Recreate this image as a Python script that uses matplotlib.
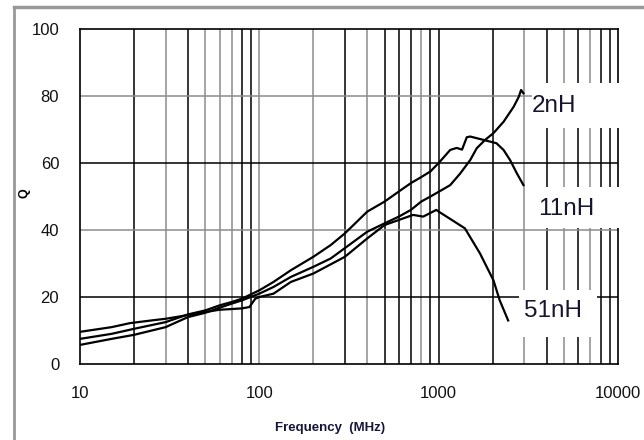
import matplotlib.pyplot as plt
from matplotlib.patches import Rectangle
from matplotlib.lines import Line2D

# Q vs frequency for three chip inductors
freq_2nH = [10, 15, 20, 30, 40, 50, 60, 70, 80, 100, 120, 150, 200, 250, 300, 400, 500, 600, 700,
            800, 900, 1000, 1160, 1320, 1500, 1630, 1815, 2020, 2300, 2620, 2800, 2880, 2970]
q_2nH = [5.7, 7.5, 8.7, 11, 14, 15.3, 16.8, 18, 19, 21, 23, 26, 29, 31.5, 34.6, 39.5, 42, 44, 46,
         48.5, 50, 51.4, 53.4, 56.9, 60.9, 64.4, 66.9, 68.9, 72.3, 76.8, 79.8, 81.8, 80.8]

freq_11nH = [10, 15, 20, 30, 40, 50, 60, 70, 80, 100, 120, 150, 200, 250, 300, 400, 500, 600, 700,
             800, 900, 1000, 1160, 1260, 1350, 1435, 1500, 1775, 2100, 2300, 2500, 2730, 2970]
q_11nH = [7.5, 9, 10.5, 12.5, 14.8, 16, 17.5, 18.5, 19.5, 22, 24.5, 28, 32, 35.5, 39, 45.5, 48.5,
          51.5, 54, 55.8, 57.5, 60, 63.9, 64.5, 64, 67.7, 67.9, 66.9, 65.9, 63.9, 60.9, 56.9, 53.4]

freq_51nH = [10, 15, 19, 25, 30, 40, 50, 60, 70, 80, 88, 95, 100, 120, 150, 200, 300, 400, 500,
             600, 720, 820, 970, 1000, 1160, 1400, 1700, 2020, 2190, 2440]
q_51nH = [9.6, 11, 12.2, 13, 13.5, 14.6, 15.5, 16.2, 16.4, 16.6, 17, 19.5, 20, 21, 24.5, 27, 32,
          37.5, 41.5, 43, 44.5, 44, 46, 45.5, 43.3, 40.5, 33, 25, 19, 13]

series = [("2nH", freq_2nH, q_2nH), ("11nH", freq_11nH, q_11nH), ("51nH", freq_51nH, q_51nH)]

# grid lines, some printed dark and some grey in the scan
dark_f = [20, 40, 80, 90, 300, 500, 600, 700, 900, 1000, 2000, 4000, 6000, 8000, 9000]
grey_f = [30, 50, 60, 70, 100, 200, 400, 800, 3000, 5000, 7000]
dark_q = [20, 60]
grey_q = [40, 80]

fig = plt.figure(figsize=(6.44, 4.40), dpi=100)
ax = fig.add_axes([80/644, 76/440, 538/644, 335/440])

for f in dark_f:
    ax.axvline(f, color="black", lw=1.1, zorder=1)
for f in grey_f:
    ax.axvline(f, color="#8c8c8c", lw=1.1, zorder=1)
for q in dark_q:
    ax.axhline(q, color="black", lw=1.1, zorder=1)
for q in grey_q:
    ax.axhline(q, color="#8c8c8c", lw=1.1, zorder=1)

for name, f, q in series:
    ax.plot(f, q, color="black", lw=1.6, zorder=4)

ax.set_xscale("log")
ax.set_xlim(10, 10000)
ax.set_ylim(0, 100)
ax.set_xticks([10, 100, 1000, 10000])
ax.set_xticklabels(["10", "100", "1000", "10000"])
ax.set_yticks([0, 20, 40, 60, 80, 100])
ax.minorticks_off()
ax.tick_params(length=0, labelsize=12, colors="#111111")
ax.tick_params(axis="x", pad=16)
ax.tick_params(axis="y", pad=15)
for lab in ax.get_xticklabels() + ax.get_yticklabels():
    lab.set_fontfamily("Liberation Sans")
for s in ax.spines.values():
    s.set_color("black")
    s.set_linewidth(1.2)

# white boxes behind the curve labels (they cut the grid in the original)
boxes = {"2nH": (0.840, 0.704, 0.165, 0.135, 0.84, 0.77),
         "11nH": (0.836, 0.406, 0.170, 0.122, 0.852, 0.464),
         "51nH": (0.816, 0.081, 0.145, 0.140, 0.825, 0.157)}
for name, (bx, by, bw, bh, tx, ty) in boxes.items():
    ax.add_patch(Rectangle((bx, by), bw, bh, transform=ax.transAxes, facecolor="white",
                           edgecolor="none", zorder=3, clip_on=False))
    ax.text(tx, ty, name, transform=ax.transAxes, fontsize=17.5, family="Liberation Sans",
            color="#151530", va="center", ha="left", zorder=5)

fig.text(25/644, 1 - 193/440, "Q", rotation=90, fontsize=9, fontweight="bold",
         family="Liberation Sans", ha="center", va="center")
fig.text(330/644, 1 - 428/440, "Frequency  (MHz)", fontsize=9.5, fontweight="bold",
         family="Liberation Sans", color="#15153a", ha="center", va="center")

# grey outer frame (top and left edges visible)
fig.add_artist(Line2D([13.5/644, 13.5/644], [0, 1 - 7/440], transform=fig.transFigure,
                      color="#999999", lw=2))
fig.add_artist(Line2D([13.5/644, 1], [1 - 7/440, 1 - 7/440], transform=fig.transFigure,
                      color="#999999", lw=2.5))

fig.savefig("out.png", dpi=100)
